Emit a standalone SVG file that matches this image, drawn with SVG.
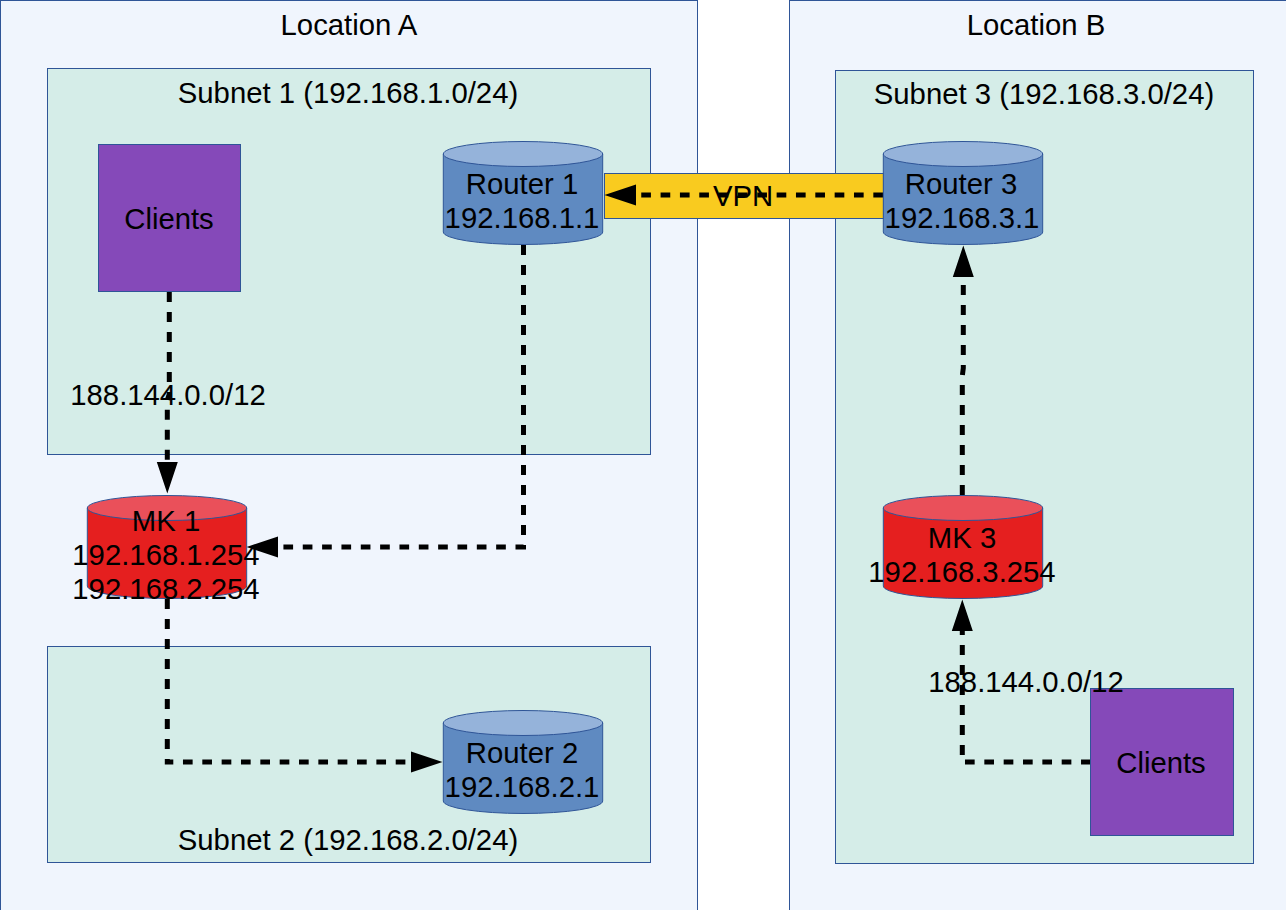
<svg xmlns="http://www.w3.org/2000/svg" width="1286" height="910" viewBox="0 0 1286 910">
<style>
text{font-family:"Liberation Sans",Arial,sans-serif;font-size:29.300px;fill:#000;text-anchor:middle}
.loc{fill:#f0f5fd;stroke:#2f5597;stroke-width:1}
.sub{fill:#d5ede8;stroke:#2f5597;stroke-width:1}
.cli{fill:#8549b9;stroke:#2f5597;stroke-width:1}
.bb{fill:#5f8ac1;stroke:#2f5597;stroke-width:1}
.bt{fill:#95b3da;stroke:#2f5597;stroke-width:1}
.rb{fill:#e51f1f;stroke:#2f5597;stroke-width:1}
.rt{fill:#ea505a;stroke:#2f5597;stroke-width:1}
.c{fill:none;stroke:#000;stroke-width:5;stroke-dasharray:10 10}
.h{stroke-dasharray:9.670 9.670}
</style>
<defs>
<marker id="a" markerUnits="userSpaceOnUse" markerWidth="34" markerHeight="24" refX="0" refY="12" orient="auto"><path d="M0 1.500L31.500 12L0 22.500Z" fill="#000"/></marker>
<g id="cb"><path class="bb" d="M-79.700 -39V39A79.700 12.500 0 0 0 79.700 39V-39Z"/><ellipse class="bt" cx="0" cy="-39" rx="79.700" ry="12.500"/></g>
<g id="cr"><path class="rb" d="M-79.700 -39V39A79.700 12.500 0 0 0 79.700 39V-39Z"/><ellipse class="rt" cx="0" cy="-39" rx="79.700" ry="12.500"/></g>
</defs>
<g id="location-a"><rect class="loc" x="0.500" y="0.500" width="697" height="915"/><text x="349" y="35">Location A</text></g>
<g id="location-b"><rect class="loc" x="789.500" y="0.500" width="600" height="915"/><text x="1036" y="35">Location B</text></g>
<g id="subnet-1"><rect class="sub" x="47.500" y="68.500" width="603" height="386"/><text x="348" y="103">Subnet 1 (192.168.1.0/24)</text></g>
<g id="subnet-2"><rect class="sub" x="47.500" y="646.500" width="603" height="216"/><text x="348" y="850">Subnet 2 (192.168.2.0/24)</text></g>
<g id="subnet-3"><rect class="sub" x="835.500" y="70.500" width="418" height="793"/><text x="1044" y="104">Subnet 3 (192.168.3.0/24)</text></g>
<g id="vpn"><rect x="604.500" y="173.500" width="279" height="45" fill="#f9cb1f" stroke="#2f5597"/></g>
<g id="connectors">
<path class="c h" d="M883 195H636" marker-end="url(#a)"/>
<path class="c" d="M169.300 292V394L167.300 400V462" style="stroke-dasharray:10 10 10 10 10 10 10 10 10 10 8 10 10 10 10 10 10 10" marker-end="url(#a)"/>
<path class="c" d="M523.500 245V547H278" style="stroke-dasharray:10 10 10 10 10 10 10 10 10 10 10 10 10 10 10 10 10 10 10 10 10 10 10 10 10 10 10 10 10 10 10 9.670 9.670 9.670 9.670 9.670 9.670 9.670 9.670 9.670 9.670 9.670 9.670 9.670 9.670 9.670 9.670 9.670 9.670 9.670 9.670 9.670 9.670 9.670 9.670 9.670 9.670 100" marker-end="url(#a)"/>
<path class="c" d="M167.300 599V762H411" style="stroke-dasharray:10 10 10 10 10 10 10 10 10 10 10 10 10 10 10 10 9 9.670 9.670 9.670 9.670 9.670 9.670 9.670 9.670 9.670 9.670 9.670 9.670 9.670 9.670 9.670 9.670 9.670 9.670 9.670 9.670 9.670 9.670 9.670 9.670 9.670 100" marker-end="url(#a)"/>
<path class="c" d="M962.300 495V376L963.300 368V277" marker-end="url(#a)"/>
<path class="c" d="M1090.700 762H962.300V631" style="stroke-dasharray:9.670 9.670 9.670 9.670 9.670 9.670 9.670 9.670 9.670 9.670 9.670 9.670 9.670 9.700 10 10 10 10 10 10 10 10 10 10 10 10 10 10" marker-end="url(#a)"/>
</g>
<g id="clients-a"><rect class="cli" x="98.500" y="144.500" width="142" height="147"/><text x="169" y="229">Clients</text></g>
<g id="clients-b"><rect class="cli" x="1090.500" y="688.500" width="143" height="147"/><text x="1161" y="773">Clients</text></g>
<g id="router-1"><use href="#cb" x="523" y="193"/><text x="522" y="194">Router 1</text><text x="522" y="228">192.168.1.1</text></g>
<g id="router-2"><use href="#cb" x="523" y="762"/><text x="522" y="763">Router 2</text><text x="522" y="797">192.168.2.1</text></g>
<g id="router-3"><use href="#cb" x="963" y="193"/><text x="961" y="194">Router 3</text><text x="962" y="228">192.168.3.1</text></g>
<g id="mk-1"><use href="#cr" x="167" y="547"/><text x="166" y="531">MK 1</text><text x="166" y="565">192.168.1.254</text><text x="166" y="599">192.168.2.254</text></g>
<g id="mk-3"><use href="#cr" x="963" y="547"/><text x="962" y="548">MK 3</text><text x="962" y="582">192.168.3.254</text></g>
<g id="labels">
<text x="168" y="405">188.144.0.0/12</text>
<text x="1026" y="692">188.144.0.0/12</text>
<text x="743" y="206">VPN</text>
</g>
</svg>
